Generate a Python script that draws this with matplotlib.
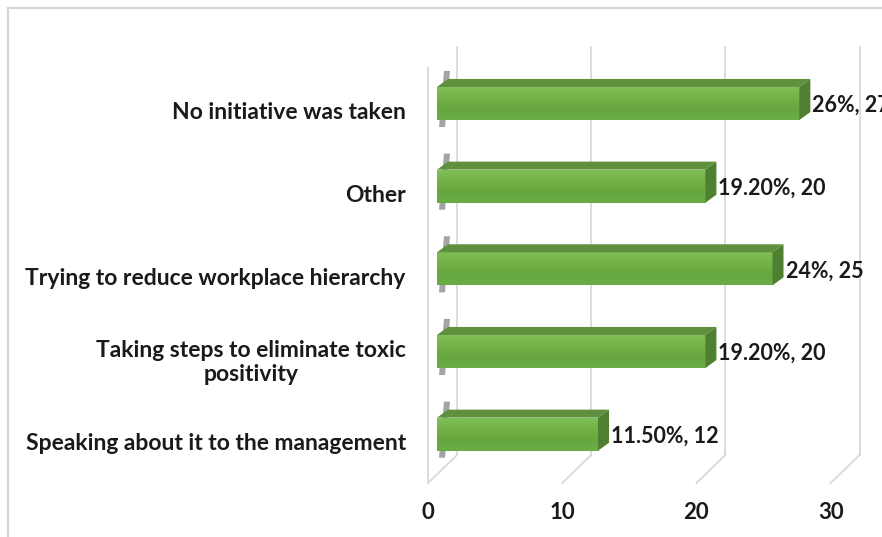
import numpy as np
import matplotlib
matplotlib.use("Agg")
import matplotlib.pyplot as plt
from matplotlib.patches import Polygon
from matplotlib.lines import Line2D
from matplotlib.colors import LinearSegmentedColormap

# ---- data -------------------------------------------------------------
categories = [
    "Speaking about it to the management",
    "Taking steps to eliminate toxic\npositivity",
    "Trying to reduce workplace hierarchy",
    "Other",
    "No initiative was taken",
]
counts = [12, 20, 25, 20, 27]
percents = ["11.50%", "19.20%", "24%", "19.20%", "26%"]
xticks = [0, 10, 20, 30]

# ---- figure / plot box (front plane of the 3-D frame) -----------------
W, H, DPI = 882, 537, 100
plt.rcParams["font.family"] = ["Lato", "DejaVu Sans"]
FS_CAT = 16.5
FS_VAL = 15.5
FS_TICK = 16

fig = plt.figure(figsize=(W / DPI, H / DPI), dpi=DPI)
fig.patch.set_facecolor("white")

left_px, right_px = 428, 830.6
top_px, bottom_px = 68, 483
XMIN, XMAX = 0, 30
YMIN, YMAX = -0.5, 4.52
ax = fig.add_axes([left_px / W, 1 - bottom_px / H,
                   (right_px - left_px) / W, (bottom_px - top_px) / H])

sx = (right_px - left_px) / (XMAX - XMIN)   # pixels per x unit
sy = (bottom_px - top_px) / (YMAX - YMIN)   # pixels per y unit


def dx(px):
    return px / sx


def dy(px):
    return px / sy


GRID = "#d9d9d9"
idx = np.arange(len(categories))

# ---- walls, floor and gridlines --------------------------------------
wall_dx = 29
floor_dy, top_dy = 28, 21
for v in xticks:
    xb = v + dx(wall_dx)
    # back-plane gridline
    ax.add_line(Line2D([xb, xb], [YMIN + dy(floor_dy), YMAX + dy(top_dy)],
                       color=GRID, lw=1.3, zorder=0.5, clip_on=False))
    # floor diagonal
    ax.add_line(Line2D([v, xb], [YMIN, YMIN + dy(floor_dy)],
                       color=GRID, lw=1.3, zorder=0.5, clip_on=False))
# front edge of the side wall
ax.add_line(Line2D([0, 0], [YMIN, YMAX], color=GRID, lw=1.3,
                   zorder=0.5, clip_on=False))

# ---- 3-D bars ---------------------------------------------------------
bar_h = 0.40
box, boy = dx(9), dy(7.5)      # front face offset from the front plane
bdx, bdy = dx(11), dy(8)       # bar depth

face_cmap = LinearSegmentedColormap.from_list(
    "face", ["#80c058", "#73b349", "#67a73f", "#6cac44"])

bars = ax.barh(idx + boy, counts, left=box, height=bar_h,
               color="#70ad47", edgecolor="none", zorder=2)

grad = np.linspace(0, 1, 64).reshape(-1, 1)
for i, (p, v) in enumerate(zip(bars, counts)):
    x0, y0 = p.get_x(), p.get_y()
    w, h = p.get_width(), p.get_height()
    ft, fb = y0 + h, y0
    xr = x0 + w

    im = ax.imshow(grad, cmap=face_cmap, extent=(x0, xr, fb, ft),
                   origin="upper", aspect="auto", zorder=2.1,
                   interpolation="bilinear")
    im.set_clip_path(p)

    # dark cap of the bar seen against the side wall
    cap = Polygon([(x0 + dx(2), fb - dy(7)), (x0 + dx(8), fb - dy(7)),
                   (x0 + dx(13), ft + dy(16)), (x0 + dx(7), ft + dy(16))],
                  closed=True, facecolor="#4a4a4a", alpha=0.5,
                  edgecolor="none", zorder=1.5, clip_on=False)
    ax.add_patch(cap)

    # top face
    top = Polygon([(x0, ft), (xr, ft), (xr + bdx, ft + bdy), (x0 + bdx, ft + bdy)],
                  closed=True, facecolor="#5e903e", edgecolor="none",
                  zorder=2.2, clip_on=False)
    ax.add_patch(top)
    # end face
    end = Polygon([(xr, fb), (xr, ft), (xr + bdx, ft + bdy), (xr + bdx, fb + bdy)],
                  closed=True, facecolor="#4f8032", edgecolor="none",
                  zorder=2.2, clip_on=False)
    ax.add_patch(end)

    ax.text(xr + bdx + dx(2), y0 + h / 2 - dy(2), f"{percents[i]}, {v}",
            ha="left", va="center", fontsize=FS_VAL, fontweight="bold",
            color="#1a1a1a", clip_on=False, zorder=3)

# ---- axes -------------------------------------------------------------
ax.set_xlim(XMIN, XMAX)
ax.set_ylim(YMIN, YMAX)
ax.set_xticks(xticks, [str(t) for t in xticks])
ax.set_yticks(idx, categories)
for lbl in ax.get_yticklabels():
    lbl.set_multialignment("center")
ax.tick_params(axis="y", length=0, pad=16, labelsize=FS_CAT, labelcolor="#1a1a1a")
ax.tick_params(axis="x", length=0, pad=14, labelsize=FS_TICK, labelcolor="#1a1a1a")
for lbl in ax.get_xticklabels() + ax.get_yticklabels():
    lbl.set_fontweight("bold")
for s in ax.spines.values():
    s.set_visible(False)
ax.patch.set_visible(False)

# ---- chart-area border -----------------------------------------------
fig.add_artist(Line2D([8 / W, 8 / W], [0, 1 - 8 / H], transform=fig.transFigure,
                      color="#d6d6d6", lw=1.6))
fig.add_artist(Line2D([8 / W, 1], [1 - 8 / H, 1 - 8 / H], transform=fig.transFigure,
                      color="#d6d6d6", lw=1.6))

fig.savefig("out.png", dpi=DPI, facecolor="white")
